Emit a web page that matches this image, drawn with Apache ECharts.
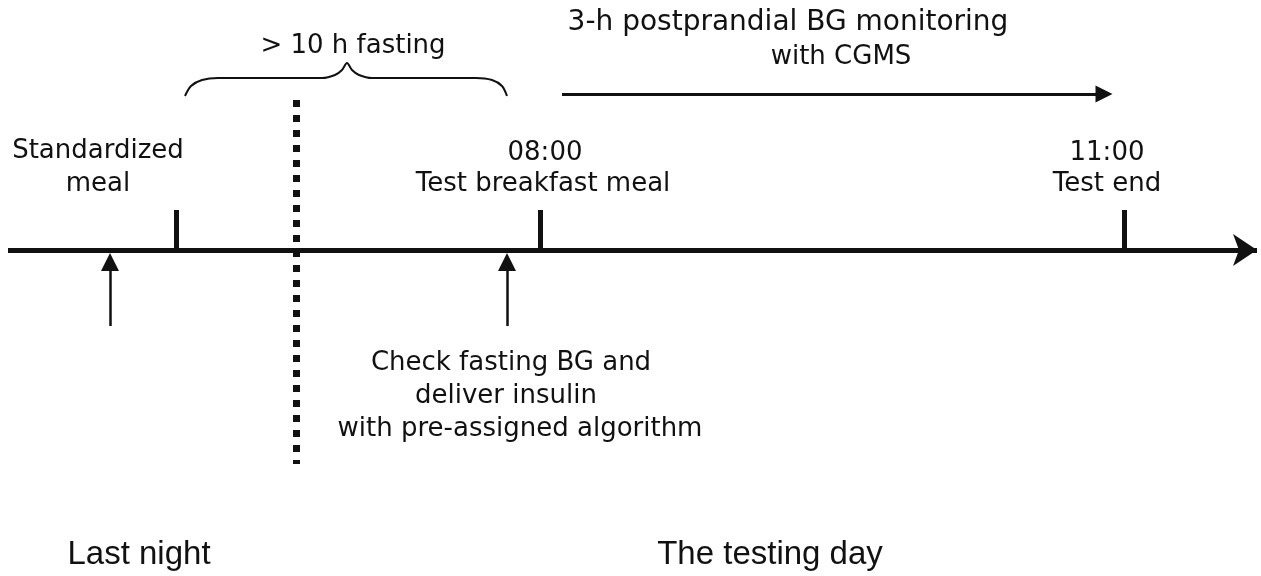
<!DOCTYPE html>
<html>
<head>
<meta charset="utf-8">
<script src="https://cdn.jsdelivr.net/npm/echarts@6/dist/echarts.min.js"></script>
<style>
  html, body { margin: 0; padding: 0; background: #fff; }
  #chart { width: 1261px; height: 576px; }
</style>
</head>
<body>
<div id="chart"></div>
<script>
// timeline diagram, drawn on a hidden 1:1 value grid
const timelineAxis = [[8, 250], [1257, 250]]
const tickMarks = [
  [[176, 210], [176, 252]],
  [[540, 210], [540, 252]],
  [[1124, 210], [1124, 252]]
]
const eventArrows = [
  [[110, 326], [110, 262]],
  [[507, 326], [507, 262]]
]
const monitorArrow = [[562, 94], [1104, 94]]
const nightDivider = [[296, 100], [296, 464]]
const fastingBrace = [
  [185, 96], [191, 86], [202, 80], [218, 78], [322, 78], [335, 75],
  [342, 70], [347, 63], [352, 70], [359, 75], [372, 78], [476, 78],
  [492, 80], [502, 86], [507, 96]
]
const labelText = [
  '> 10 h fasting',
  '3-h postprandial BG monitoring',
  'with CGMS',
  'Standardized',
  'meal',
  '08:00',
  'Test breakfast meal',
  '11:00',
  'Test end',
  'Check fasting BG and',
  'deliver insulin',
  'with pre-assigned algorithm'
]
const labelPos = [
  [353, 46], [788, 23], [841, 57], [98, 151], [98, 184], [545, 153],
  [543, 184], [1107, 153], [1107, 184], [511, 363], [506, 396], [520, 429]
]
const labelSize = [26, 28, 26, 26, 26, 26, 26, 26, 26, 26, 26, 26]
const periodText = ['Last night', 'The testing day']
const periodPos = [[139, 555], [770, 555]]

const chart = echarts.init(document.getElementById('chart'))
const ink = '#111'

const option = {
  animation: false,
  grid: { left: 0, right: 0, top: 0, bottom: 0 },
  xAxis: { type: 'value', min: 0, max: 1261, show: false },
  yAxis: { type: 'value', min: 0, max: 576, inverse: true, show: false },
  series: [
    {
      type: 'lines',
      coordinateSystem: 'cartesian2d',
      symbol: ['none', 'arrow'],
      symbolSize: 24,
      lineStyle: { color: ink, width: 5, opacity: 1 },
      data: [{ coords: timelineAxis }]
    },
    {
      type: 'lines',
      coordinateSystem: 'cartesian2d',
      symbol: 'none',
      lineStyle: { color: ink, width: 5, opacity: 1 },
      data: tickMarks.map(c => ({ coords: c }))
    },
    {
      type: 'lines',
      coordinateSystem: 'cartesian2d',
      symbol: ['none', 'triangle'],
      symbolSize: 18,
      lineStyle: { color: ink, width: 2.5, opacity: 1 },
      data: eventArrows.map(c => ({ coords: c }))
    },
    {
      type: 'lines',
      coordinateSystem: 'cartesian2d',
      symbol: ['none', 'triangle'],
      symbolSize: 17,
      lineStyle: { color: ink, width: 3, opacity: 1 },
      data: [{ coords: monitorArrow }]
    },
    {
      type: 'lines',
      coordinateSystem: 'cartesian2d',
      symbol: 'none',
      lineStyle: { color: ink, width: 7, type: [7, 8], opacity: 1 },
      data: [{ coords: nightDivider }]
    },
    {
      type: 'line',
      smooth: 0.3,
      symbol: 'none',
      lineStyle: { color: ink, width: 2 },
      data: fastingBrace
    },
    {
      type: 'scatter',
      symbolSize: 0,
      itemStyle: { opacity: 1 },
      data: labelPos.map((p, i) => ({
        value: [p[0], p[1], labelText[i]],
        label: { fontSize: labelSize[i] }
      })),
      label: {
        show: true,
        position: 'inside',
        formatter: p => p.value[2],
        color: ink,
        opacity: 1,
        fontFamily: 'DejaVu Sans',
        fontSize: 26
      }
    },
    {
      type: 'scatter',
      symbolSize: 0,
      itemStyle: { opacity: 1 },
      data: periodPos.map((p, i) => [p[0], p[1], periodText[i]]),
      label: {
        show: true,
        position: 'inside',
        formatter: p => p.value[2],
        color: ink,
        opacity: 1,
        fontFamily: 'Liberation Sans',
        fontSize: 33
      }
    }
  ]
}

option && chart.setOption(option)
</script>
</body>
</html>
